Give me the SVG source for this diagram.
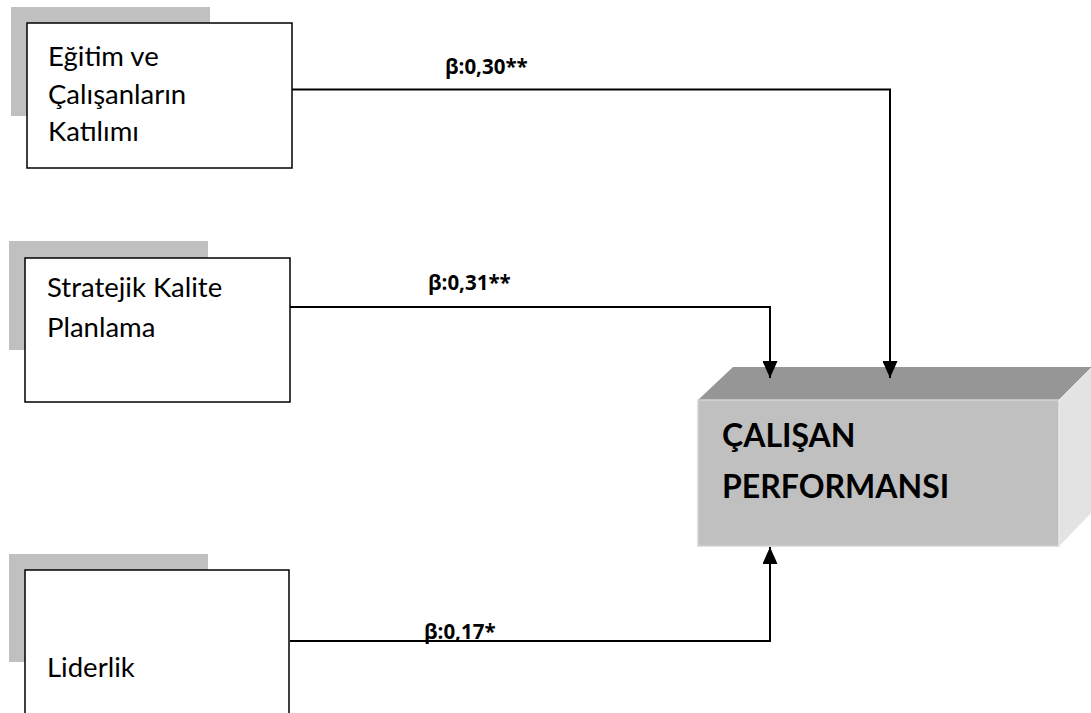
<svg xmlns="http://www.w3.org/2000/svg" width="1091" height="713" viewBox="0 0 1091 713">
<style>
.shadow{fill:#c0c0c0}
.box{fill:#fff;stroke:#000;stroke-width:1.5}
.t{font-family:Lato,"Open Sans","Liberation Sans",sans-serif;font-size:27.5px;fill:#000}
.lb{font-family:"Open Sans",Lato,"Liberation Sans",sans-serif;font-size:20.5px;font-weight:bold;fill:#000}
.big{font-family:Lato,"Open Sans","Liberation Sans",sans-serif;font-size:32px;font-weight:bold;fill:#000}
.con{fill:none;stroke:#000;stroke-width:2;marker-end:url(#ah)}
</style>
<defs>
<marker id="ah" viewBox="0 0 17 15" refX="17" refY="7.5" markerWidth="17" markerHeight="15" markerUnits="userSpaceOnUse" orient="auto">
<path d="M0,0 L17,7.5 L0,15 z" fill="#000"/>
</marker>
</defs>
<rect width="1091" height="713" fill="#fff"/>
<g id="node-egitim">
<rect class="shadow" x="11" y="7" width="199" height="109"/>
<rect class="box" x="27" y="23" width="265" height="145"/>
<text class="t" x="48" y="66">Eğitim ve</text>
<text class="t" x="48" y="104">Çalışanların</text>
<text class="t" x="48" y="141">Katılımı</text>
</g>
<g id="node-stratejik">
<rect class="shadow" x="9" y="241" width="199" height="109"/>
<rect class="box" x="25" y="258" width="265" height="144"/>
<text class="t" x="47" y="297">Stratejik Kalite</text>
<text class="t" x="47" y="337">Planlama</text>
</g>
<g id="node-liderlik">
<rect class="shadow" x="9" y="554" width="199" height="108"/>
<path class="box" d="M25,714 V570 H289 V714"/>
<text class="t" x="47" y="677">Liderlik</text>
</g>
<g id="node-performans">
<polygon points="698,400 733,367 1092,367 1059,400" fill="#969696"/>
<rect x="698" y="400" width="361" height="146" fill="#c0c0c0" stroke="#d4d4d4" stroke-width="1.5"/>
<polygon points="1059,400 1092,367 1092,512 1059,546" fill="#e3e3e3" stroke="#ececec" stroke-width="1"/>
<text class="big" x="722" y="447">ÇALIŞAN</text>
<text class="big" x="722" y="498">PERFORMANSI</text>
</g>
<g id="connectors">
<path class="con" d="M292,89.5 H890 V378"/>
<path class="con" d="M290,307 H770 V378"/>
<path class="con" d="M290,641 H770 V547"/>
<text class="lb" x="445" y="74">β:0,30**</text>
<text class="lb" x="428" y="290">β:0,31**</text>
<text class="lb" x="424" y="639">β:0,17*</text>
</g>
</svg>
